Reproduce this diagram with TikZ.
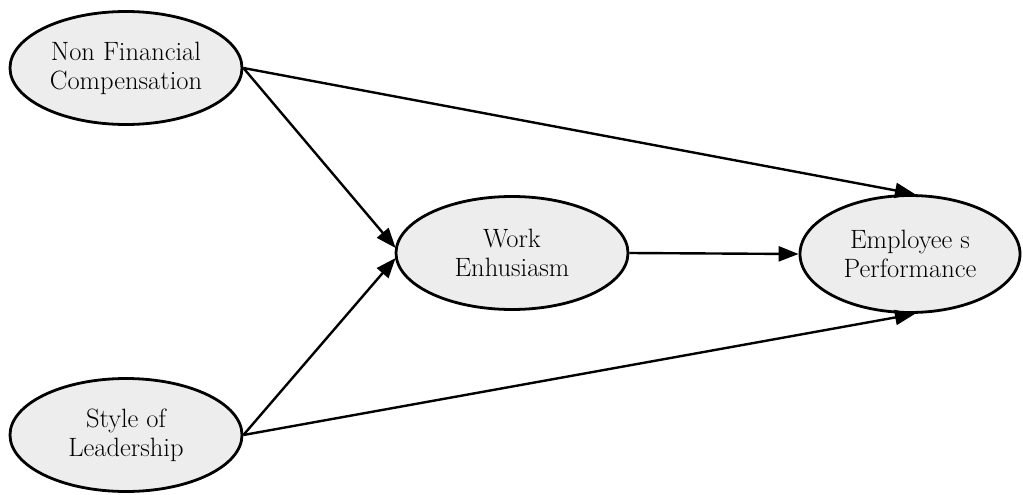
\documentclass[tikz,border=0pt]{standalone}
\usetikzlibrary{shapes.geometric,arrows.meta}
\definecolor{ellfill}{HTML}{EDEDED}
\begin{document}
\begin{tikzpicture}[x=1pt,y=1pt,
  var/.style={ellipse,draw=black,line width=2.8pt,fill=ellfill,inner sep=0pt,
    minimum width=232pt,minimum height=113pt,align=center,
    font=\fontsize{26.5}{29}\selectfont},
  link/.style={line width=2.4pt,-{Triangle[length=20pt,width=15pt]}}]
\useasboundingbox (0,0) rectangle (1023,-495);
\node[var] (nfc) at (126,-68) {Non Financial\\Compensation};
\node[var] (work) at (512,-253) {Work\\Enhusiasm};
\node[var,minimum width=220pt,minimum height=117pt] (emp) at (910,-254) {Employee s\\Performance};
\node[var] (sol) at (126,-435) {Style of\\Leadership};
\draw[link] (nfc.east) -- ([shift={(1pt,5pt)}]work.west);
\draw[link] (sol.east) -- ([shift={(1pt,-5pt)}]work.west);
\draw[link] (nfc.east) -- ([xshift=5pt]emp.north);
\draw[link] (sol.east) -- ([xshift=5pt]emp.south);
\draw[link] (work.east) -- (emp.west);
\end{tikzpicture}
\end{document}
